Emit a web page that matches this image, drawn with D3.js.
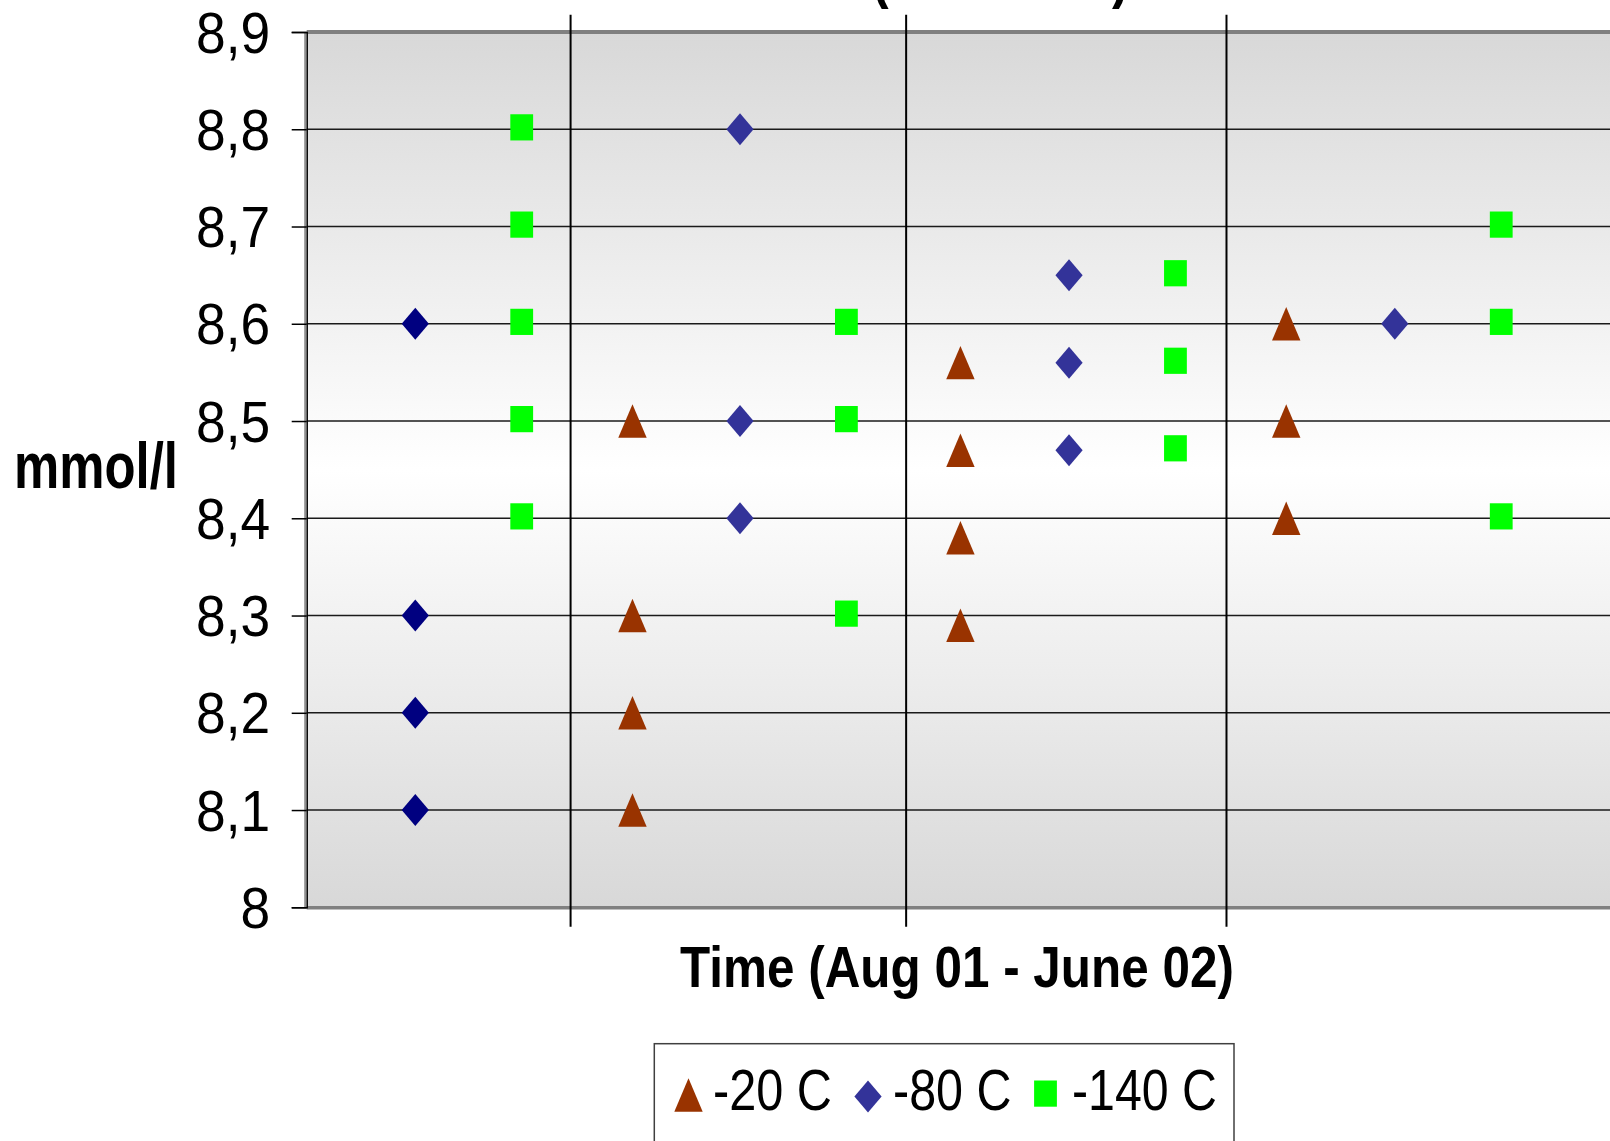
<!DOCTYPE html>
<html>
<head>
<meta charset="utf-8">
<script src="https://cdn.jsdelivr.net/npm/d3@7"></script>
<style>
  html, body { margin: 0; padding: 0; background: #ffffff; }
  svg { display: block; }
  text { font-family: "Liberation Sans", Arial, sans-serif; fill: #000; }
</style>
</head>
<body>
<script>
// ---- data ----
const seriesNames = ["-20 C", "-80 C", "-140 C"];
const seriesColors = ["#993300", "#333399", "#00ff00"];
const seriesShapes = ["triangle", "diamond", "square"];

// sample positions along the time axis (one column of readings per sample)
const xAug01Diamond = 1.0;
const xSquares = [1.98, 4.97, 8.0, 11.0];
const xTriangles = [3.0, 6.02, 9.02];
const xDiamonds = [3.99, 7.02, 10.02];

// first -80 C column (plotted in navy)
const aug01Diamond = [8.6, 8.3, 8.2, 8.1];

// -20 C readings per column
const triangles = [
  [8.5, 8.3, 8.2, 8.1],
  [8.56, 8.47, 8.38, 8.29],
  [8.6, 8.5, 8.4]
];
// -80 C readings per column
const diamonds = [
  [8.8, 8.5, 8.4],
  [8.65, 8.56, 8.47],
  [8.6]
];
// -140 C readings per column
const squares = [
  [8.8, 8.7, 8.6, 8.5, 8.4],
  [8.6, 8.5, 8.3],
  [8.65, 8.56, 8.47],
  [8.7, 8.6, 8.4]
];

// period separators on the time axis
const separators = [2.43, 5.52, 8.47];

const yTicks = [8, 8.1, 8.2, 8.3, 8.4, 8.5, 8.6, 8.7, 8.8, 8.9];
const yTickLabels = ["8", "8,1", "8,2", "8,3", "8,4", "8,5", "8,6", "8,7", "8,8", "8,9"];

const yTitle = "mmol/l";
const xTitle = "Time (Aug 01 - June 02)";

// ---- layout ----
const W = 1610, H = 1141;
const plot = { left: 306.7, top: 32, right: 1612, bottom: 907.3 };

const svg = d3.select("body").append("svg").attr("width", W).attr("height", H);

const x = d3.scaleLinear().domain([0, 12.02]).range([plot.left, plot.right]);
const y = d3.scaleLinear().domain([8, 8.9]).range([plot.bottom, plot.top]);

// condensed text: placed at (tx, ty) and squeezed horizontally to a given width
function condensed(parent, str, tx, ty, width, size, weight) {
  const t = parent.append("text")
    .style("font-size", size + "px")
    .style("font-weight", weight || "normal")
    .text(str);
  const natural = t.node().getComputedTextLength();
  t.attr("transform", `translate(${tx},${ty}) scale(${width / natural},1)`);
  return t;
}

// background gradient of the plot area
const defs = svg.append("defs");
const grad = defs.append("linearGradient").attr("id", "bg").attr("x1", 0).attr("y1", 0).attr("x2", 0).attr("y2", 1);
grad.append("stop").attr("offset", "0%").attr("stop-color", "#d8d8d8");
grad.append("stop").attr("offset", "50%").attr("stop-color", "#ffffff");
grad.append("stop").attr("offset", "100%").attr("stop-color", "#d8d8d8");

svg.append("rect")
  .attr("x", plot.left).attr("y", plot.top)
  .attr("width", plot.right - plot.left).attr("height", plot.bottom - plot.top)
  .attr("fill", "url(#bg)");

// horizontal gridlines
svg.append("g")
  .selectAll("line")
  .data(yTicks.filter(v => v > 8 && v < 8.9))
  .join("line")
  .attr("x1", plot.left).attr("x2", plot.right)
  .attr("y1", d => y(d)).attr("y2", d => y(d))
  .attr("stroke", "#1a1a1a").attr("stroke-width", 1.5);

// plot frame (top and bottom edges)
svg.append("line")
  .attr("x1", plot.left).attr("x2", plot.right)
  .attr("y1", y(8.9)).attr("y2", y(8.9))
  .attr("stroke", "#808080").attr("stroke-width", 4);
svg.append("line")
  .attr("x1", plot.left).attr("x2", plot.right)
  .attr("y1", y(8) + 0.5).attr("y2", y(8) + 0.5)
  .attr("stroke", "#808080").attr("stroke-width", 3.5);
svg.append("line")
  .attr("x1", plot.left - 1.5).attr("x2", plot.left - 1.5)
  .attr("y1", plot.top).attr("y2", plot.bottom)
  .attr("stroke", "#909090").attr("stroke-width", 2);

// period separators
svg.append("g")
  .selectAll("line")
  .data(separators)
  .join("line")
  .attr("x1", d => x(d)).attr("x2", d => x(d))
  .attr("y1", 14.7).attr("y2", 926.7)
  .attr("stroke", "#000").attr("stroke-width", 2);

// y axis
const yAxis = d3.axisLeft(y)
  .tickValues(yTicks)
  .tickSize(15)
  .tickFormat((d, i) => yTickLabels[i]);
const yg = svg.append("g").attr("transform", `translate(${plot.left},0)`).call(yAxis);
yg.select(".domain").attr("stroke", "#000").attr("stroke-width", 1.5);
yg.selectAll(".tick line").attr("stroke", "#000").attr("stroke-width", 1.5);
yg.selectAll(".tick text")
  .attr("x", null).attr("dy", null)
  .attr("transform", "translate(-36.5,20) scale(0.92,1)")
  .attr("text-anchor", "end")
  .style("font-size", "58px")
  .style("font-family", "'Liberation Sans', Arial, sans-serif")
  .attr("fill", "#000");

// ---- markers ----
function markerPath(shape) {
  const p = d3.path();
  if (shape === "triangle") {
    p.moveTo(0, -16.7); p.lineTo(14.2, 16.7); p.lineTo(-14.2, 16.7); p.closePath();
  } else if (shape === "diamond") {
    p.moveTo(0, -16); p.lineTo(13.6, 0); p.lineTo(0, 16); p.lineTo(-13.6, 0); p.closePath();
  } else {
    p.rect(-11.4, -15, 22.8, 26.2);
  }
  return p.toString();
}

function columnPoints(xs, cols) {
  const pts = [];
  cols.forEach((vals, i) => vals.forEach(v => pts.push({ x: xs[i], v })));
  return pts;
}

const layers = [
  { pts: aug01Diamond.map(v => ({ x: xAug01Diamond, v })), shape: "diamond", color: "#000080" },
  { pts: columnPoints(xTriangles, triangles), shape: seriesShapes[0], color: seriesColors[0] },
  { pts: columnPoints(xDiamonds, diamonds), shape: seriesShapes[1], color: seriesColors[1] },
  { pts: columnPoints(xSquares, squares), shape: seriesShapes[2], color: seriesColors[2] }
];

layers.forEach(layer => {
  svg.append("g")
    .selectAll("path")
    .data(layer.pts)
    .join("path")
    .attr("d", markerPath(layer.shape))
    .attr("transform", d => `translate(${x(d.x)},${y(d.v)})`)
    .attr("fill", layer.color);
});

// ---- titles ----
condensed(svg, yTitle, 14, 488.3, 164, 64, "bold");
condensed(svg, xTitle, 680, 986.7, 554, 58, "bold");

// chart heading sits above the visible area; only the parenthesis tails show
svg.append("text")
  .attr("transform", "translate(872,-3) scale(0.86,1)")
  .style("font-size", "58px").style("font-weight", "bold")
  .text("(");
svg.append("text")
  .attr("transform", "translate(1112,-3) scale(0.86,1)")
  .style("font-size", "58px").style("font-weight", "bold")
  .text(")");

// ---- legend ----
const legend = svg.append("g");
legend.append("rect")
  .attr("x", 654.3).attr("y", 1043.7)
  .attr("width", 1234 - 654.3).attr("height", 150)
  .attr("fill", "#fff").attr("stroke", "#404040").attr("stroke-width", 1.5);

const legendItems = [
  { sx: 688.5, sy: 1095, tx: 713, tw: 119 },
  { sx: 868, sy: 1096.5, tx: 893, tw: 118.5 },
  { sx: 1045.5, sy: 1095.5, tx: 1072, tw: 145 }
];
legendItems.forEach((it, i) => {
  legend.append("path")
    .attr("d", markerPath(seriesShapes[i]))
    .attr("transform", `translate(${it.sx},${it.sy})`)
    .attr("fill", seriesColors[i]);
  condensed(legend, seriesNames[i], it.tx, 1110, it.tw, 58);
});
</script>
</body>
</html>
